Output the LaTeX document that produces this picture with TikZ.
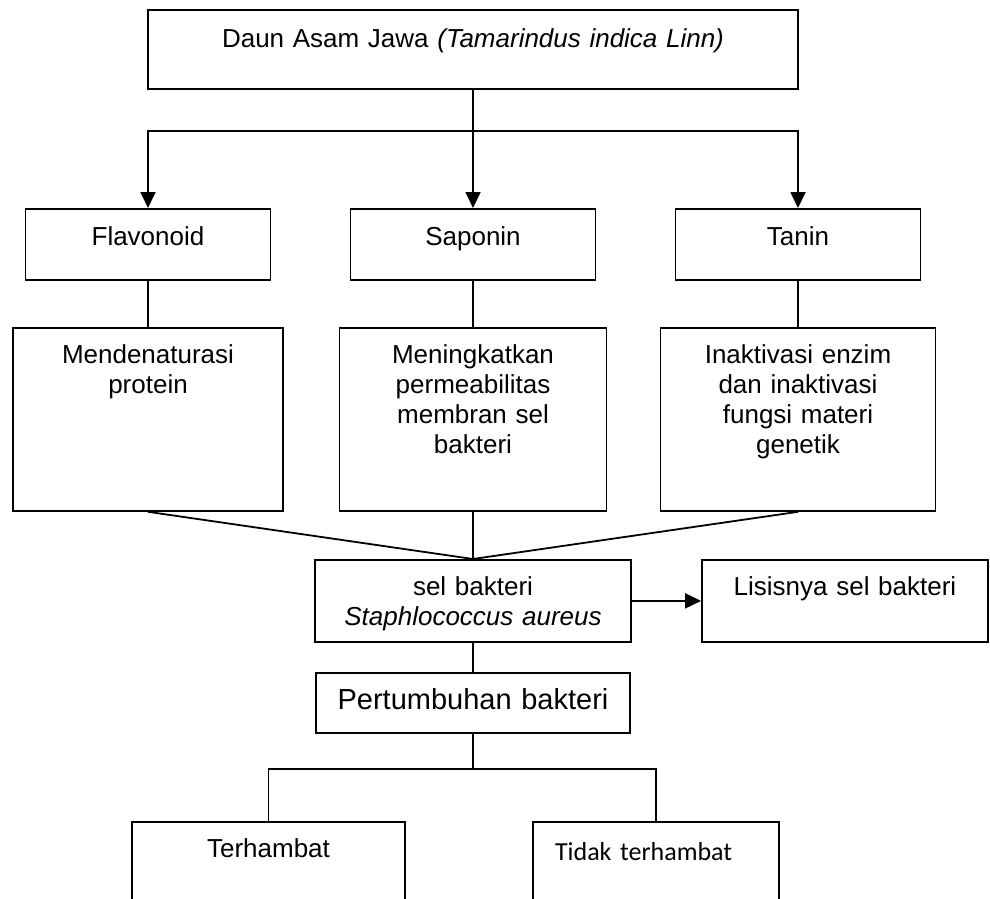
\documentclass[tikz,border=0pt]{standalone}
\usepackage{fontspec}
\setmainfont{Liberation Sans}
\newfontfamily\calibri{Carlito}
\usetikzlibrary{arrows.meta}

\begin{document}
\begin{tikzpicture}[x=1pt,y=-1pt,line width=1.8pt,
    box/.style={draw,anchor=north,inner sep=0pt,align=center,font=\fontsize{26}{30}\selectfont},
    arr/.style={-{Triangle[length=16pt,width=15pt]}}]
    \clip (0,0) rectangle (990,899);

    \node[box,text width=650,text height=38,text depth=41] (daun) at (473,9) {Daun Asam Jawa \textit{(Tamarindus indica Linn)}};
    \coordinate (bus) at (473,131);

    \node[box,text width=245,text height=37,text depth=34] (flav) at (148,208) {Flavonoid};
    \node[box,text width=245,text height=37,text depth=34] (sapo) at (473,208) {Saponin};
    \node[box,text width=245,text height=37,text depth=34] (tani) at (798,208) {Tanin};

    \node[box,text width=270,text height=36,text depth=147] (denat) at (148,327) {Mendenaturasi\\protein};
    \node[box,text width=267,text height=36,text depth=147] (perm) at (473,327) {Meningkatkan\\permeabilitas\\membran sel\\bakteri};
    \node[box,text width=275,text height=36,text depth=147] (inakt) at (798,327) {Inaktivasi enzim\\dan inaktivasi\\fungsi materi\\genetik};

    \node[box,text width=316,text height=36,text depth=46] (sel) at (473,559) {sel bakteri\\\textit{Staphlococcus aureus}};
    \node[box,text width=286,text height=36,text depth=46] (lisis) at (845,559) {Lisisnya sel bakteri};

    \node[box,text width=314,text height=37,text depth=23,font=\fontsize{29}{34}\selectfont] (tumbuh) at (473,672) {Pertumbuhan bakteri};
    \coordinate (split) at (473,769);

    \node[box,text width=273,text height=36,text depth=100] (hambat) at (268.5,821) {Terhambat};
    \node[box,text width=202,inner xsep=22pt,align=left,text height=39,text depth=100,font=\calibri\fontsize{26}{30}\selectfont] (tidak) at (656,821) {Tidak terhambat};

    \draw (daun) -- (bus);
    \draw[arr] (bus) -| (flav.north);
    \draw[arr] (bus) -- (sapo);
    \draw[arr] (bus) -| (tani.north);
    \draw (flav) -- (denat);
    \draw (sapo) -- (perm);
    \draw (tani) -- (inakt);
    \draw (denat.south) -- (sel.north);
    \draw (perm.south) -- (sel.north);
    \draw (inakt.south) -- (sel.north);
    \draw[arr] (sel) -- (lisis);
    \draw (sel) -- (tumbuh);
    \draw (tumbuh) -- (split);
    \draw (split) -| (hambat.north);
    \draw (split) -| (tidak.north);
\end{tikzpicture}
\end{document}
